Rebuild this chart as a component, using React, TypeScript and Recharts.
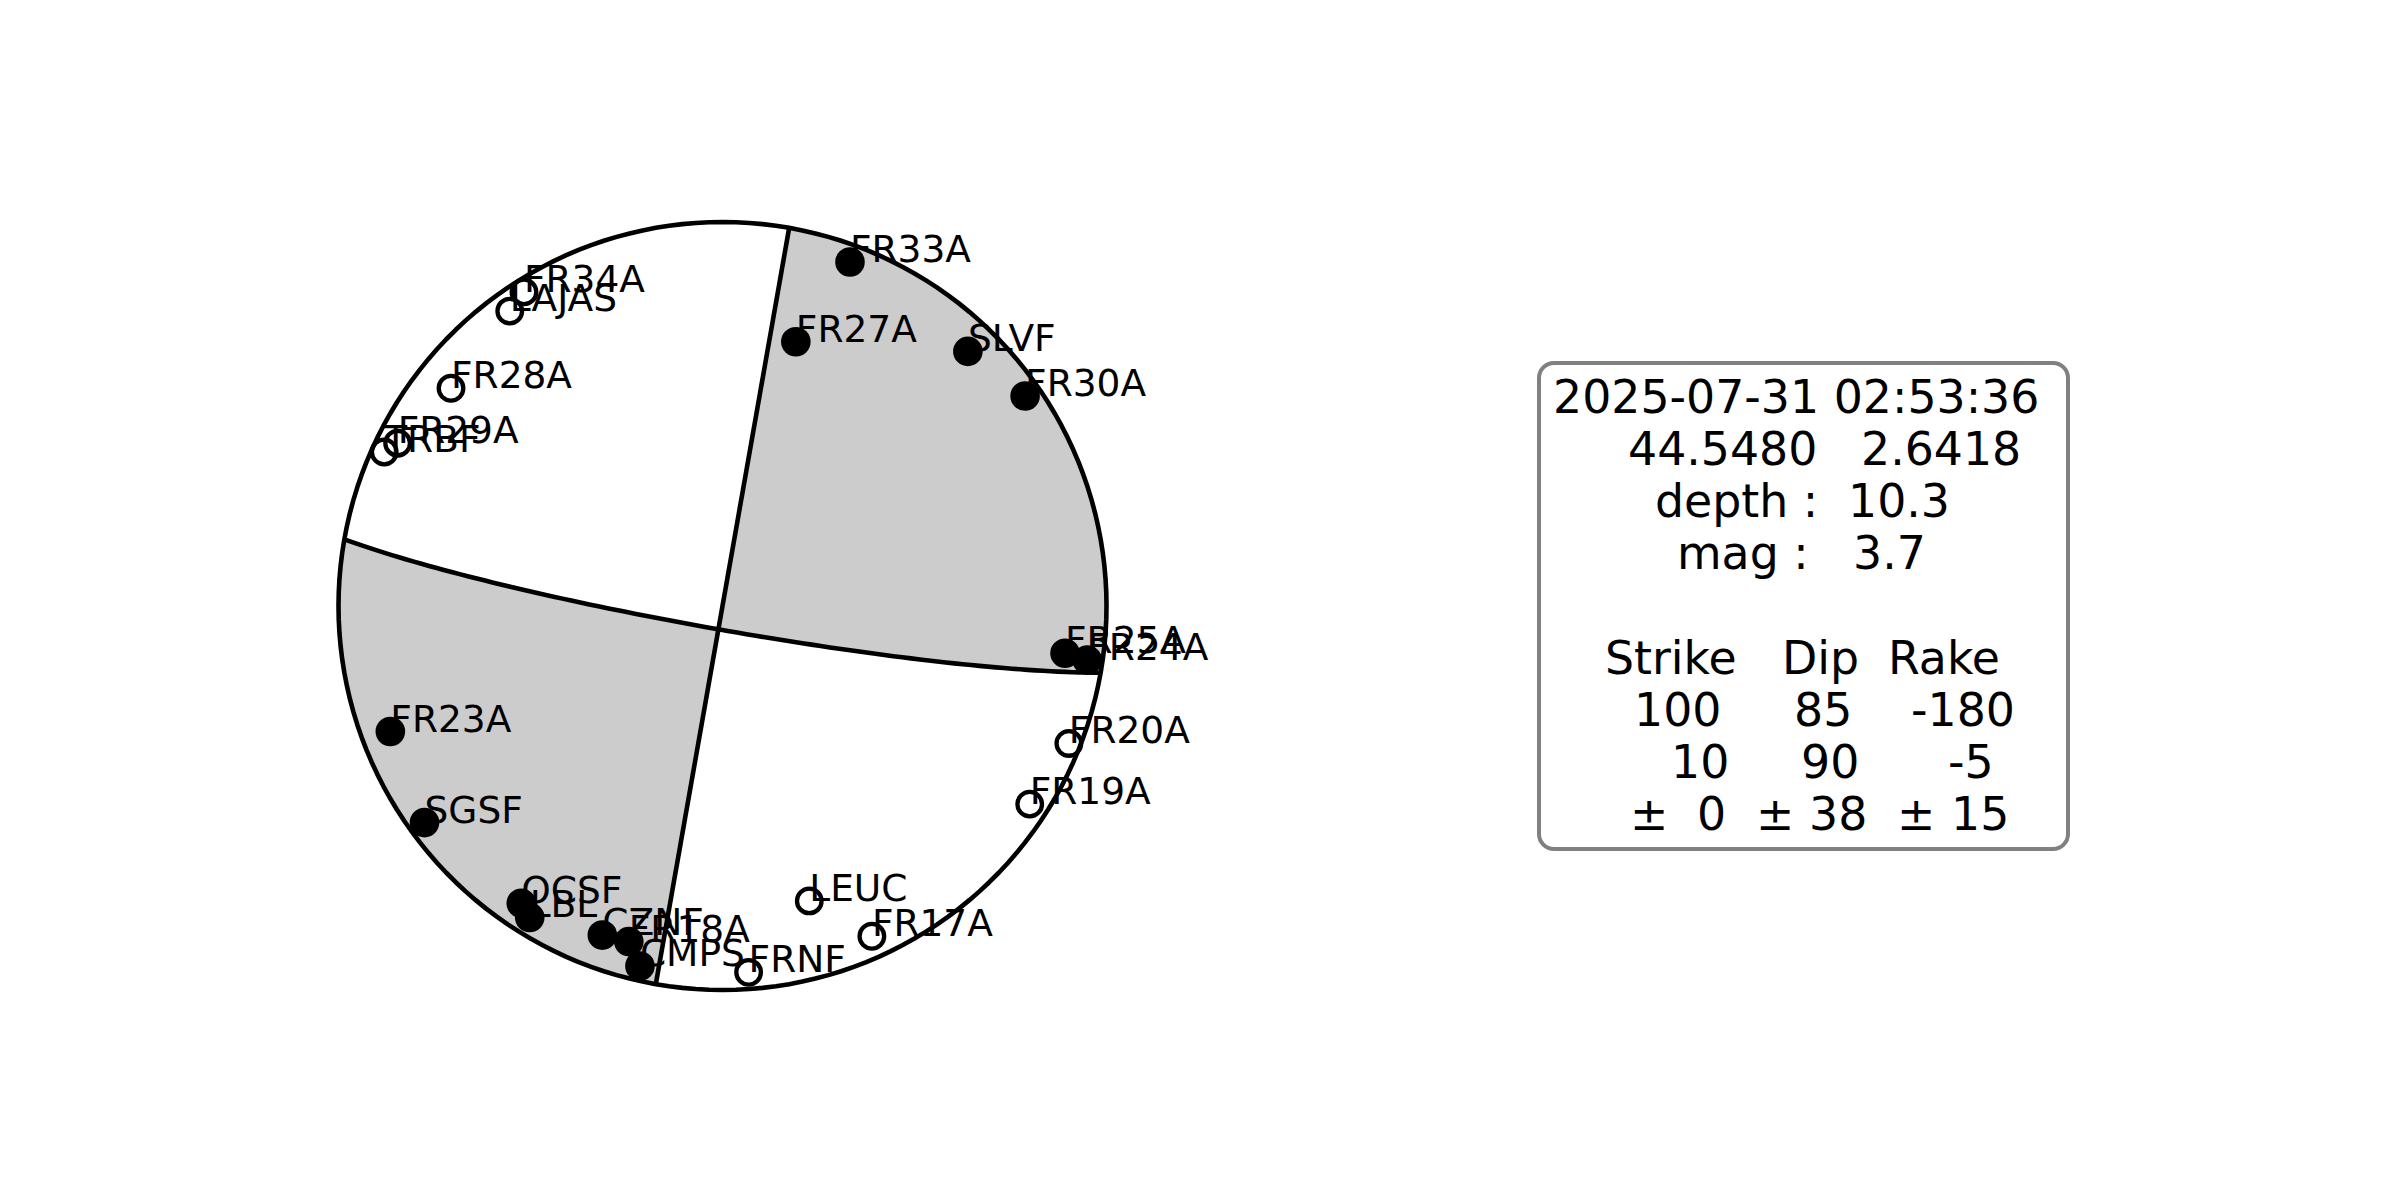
import React from "react";
import { ScatterChart, Scatter, XAxis, YAxis, Customized } from "recharts";

const CHART_W = 2400;
const CHART_H = 1200;

// nodal planes (strike, dip, rake) and their uncertainties
const strikes = [100, 10];
const dips = [85, 90];
const rakes = [-180, -5];
const errors = [0, 38, 15];

// event header
const eventTime = "2025-07-31 02:53:36";
const eventLat = "44.5480";
const eventLon = "2.6418";
const eventDepth = "10.3";
const eventMag = "3.7";

// stations, projected on the unit focal sphere (x east, y north), lower hemisphere
const stationNames = [
  "FR33A", "FR27A", "SLVF", "FR30A", "FR25A", "FR24A", "FR20A", "FR19A",
  "LEUC", "FR17A", "FRNF", "CMPS", "FR18A", "CZNF", "OCSF", "LBL",
  "SGSF", "FR23A", "TRBF", "FR29A", "FR28A", "FR34A", "LAJAS",
];
const stationX = [
  0.332, 0.191, 0.639, 0.788, 0.892, 0.95, 0.902, 0.8,
  0.226, 0.389, 0.068, -0.215, -0.244, -0.313, -0.524, -0.502,
  -0.776, -0.865, -0.881, -0.846, -0.707, -0.517, -0.554,
];
const stationY = [
  0.896, 0.688, 0.663, 0.547, -0.123, -0.141, -0.358, -0.516,
  -0.768, -0.86, -0.954, -0.9375, -0.874, -0.857, -0.774, -0.811,
  -0.564, -0.327, 0.401, 0.424, 0.567, 0.818, 0.768,
];
// 1 = compression (up), 0 = dilatation (down)
const stationPolarity = [
  1, 1, 1, 1, 1, 1, 0, 0,
  0, 0, 0, 1, 1, 1, 1, 1,
  1, 1, 0, 0, 0, 0, 0,
];

// view window so that the unit circle sits where the figure has it
const X_DOMAIN: [number, number] = [-722.5 / 384, (CHART_W - 722.5) / 384];
const Y_DOMAIN: [number, number] = [-(CHART_H - 606) / 384, 606 / 384];

type Pt = { x: number; y: number };
type Vec = [number, number, number];

const rad = (d: number) => (d * Math.PI) / 180;
const dot = (a: Vec, b: Vec) => a[0] * b[0] + a[1] * b[1] + a[2] * b[2];

function planeVecs(strike: number, dip: number) {
  const s = rad(strike);
  const d = rad(dip);
  const a: Vec = [Math.sin(s), Math.cos(s), 0];
  const b: Vec = [Math.cos(d) * Math.cos(s), -Math.cos(d) * Math.sin(s), -Math.sin(d)];
  const n: Vec = [Math.sin(d) * Math.cos(s), -Math.sin(d) * Math.sin(s), Math.cos(d)];
  return { a, b, n };
}

// Schmidt (equal area) lower hemisphere
function project(v: Vec): Pt {
  let [e, nn, u] = v;
  if (u > 0) {
    e = -e;
    nn = -nn;
    u = -u;
  }
  const len = Math.sqrt(e * e + nn * nn + u * u);
  const plunge = Math.asin(Math.min(1, -u / len));
  const trend = Math.atan2(e, nn);
  const r = Math.SQRT2 * Math.sin((Math.PI / 2 - plunge) / 2);
  return { x: r * Math.sin(trend), y: r * Math.cos(trend) };
}

const planes = strikes.map((s, i) => planeVecs(s, dips[i]));

function trace(i: number, t0: number, t1: number, steps = 90): Pt[] {
  const { a, b } = planes[i];
  const out: Pt[] = [];
  for (let k = 0; k <= steps; k++) {
    const t = rad(t0 + ((t1 - t0) * k) / steps);
    out.push(project([
      Math.cos(t) * a[0] + Math.sin(t) * b[0],
      Math.cos(t) * a[1] + Math.sin(t) * b[1],
      Math.cos(t) * a[2] + Math.sin(t) * b[2],
    ]));
  }
  return out;
}

// angle along plane i where it meets the other plane (null axis)
function nullAngle(i: number) {
  const { a, b } = planes[i];
  const other = planes[1 - i].n;
  let t = (Math.atan2(-dot(a, other), dot(b, other)) * 180) / Math.PI;
  while (t < 0) t += 180;
  while (t >= 180) t -= 180;
  return t;
}

function arc(az0: number, az1: number, steps = 60): Pt[] {
  const diff = ((az1 - az0 + 540) % 360) - 180;
  const out: Pt[] = [];
  for (let k = 0; k <= steps; k++) {
    const az = rad(az0 + (diff * k) / steps);
    out.push({ x: Math.sin(az), y: Math.cos(az) });
  }
  return out;
}

const azOf = (p: Pt) => (Math.atan2(p.x, p.y) * 180) / Math.PI;

function quadrant(e1: number, e2: number): Pt[] {
  const tb1 = nullAngle(0);
  const tb2 = nullAngle(1);
  const p2 = trace(1, e2, tb2);
  const p1 = trace(0, tb1, e1);
  const end1 = p1[p1.length - 1];
  const start2 = p2[0];
  return [...p2, ...p1, ...arc(azOf(end1), azOf(start2))];
}

// which pair of quadrants is compressional
function slipVec(i: number): Vec {
  const { a, b } = planes[i];
  const l = rad(rakes[i]);
  return [
    Math.cos(l) * a[0] - Math.sin(l) * b[0],
    Math.cos(l) * a[1] - Math.sin(l) * b[1],
    Math.cos(l) * a[2] - Math.sin(l) * b[2],
  ];
}
const testDir: Vec = [
  planes[0].a[0] + planes[1].a[0],
  planes[0].a[1] + planes[1].a[1],
  0,
];
const firstQuadUp = dot(testDir, planes[0].n) * dot(testDir, slipVec(0)) > 0;
const grayQuads = firstQuadUp
  ? [quadrant(0, 0), quadrant(180, 180)]
  : [quadrant(0, 180), quadrant(180, 0)];

const planeTraces = [trace(0, 0, 180), trace(1, 0, 180)];
const outline = arc(0, 180, 90).concat(arc(180, 360, 90));

const stations = stationNames.map((name, i) => ({
  name,
  x: stationX[i],
  y: stationY[i],
  up: stationPolarity[i] === 1,
}));

const toPath = (pts: { x: number; y: number }[], close = false) =>
  pts.map((p, i) => `${i ? "L" : "M"}${p.x},${p.y}`).join(" ") + (close ? " Z" : "");

const NoDot = () => <g />;

const fillLine = (props: any) => (
  <path d={toPath(props.points, true)} fill="#cccccc" stroke="none" />
);
const strokeLine = (width: number) => (props: any) => (
  <path d={toPath(props.points)} fill="none" stroke="#000000" strokeWidth={width} strokeLinejoin="round" />
);

const StationMarker = (props: any) => {
  const { cx, cy, payload } = props;
  return payload.up ? (
    <circle cx={cx} cy={cy} r={14.8} fill="#000000" />
  ) : (
    <circle cx={cx} cy={cy} r={12.3} fill="none" stroke="#000000" strokeWidth={4.3} />
  );
};

const StationLabel = (props: any) => {
  const { cx, cy, payload } = props;
  return (
    <text x={cx} y={cy} fontFamily="DejaVu Sans" fontSize={37.5} fill="#000000">
      {payload.name}
    </text>
  );
};

const BOX = { x: 1539, y: 363, w: 529, h: 486 };
const ROW_Y = [413, 465, 517, 569, 673.5, 725.5, 777.5, 829.5];

const InfoBox = () => {
  const rows: [string, number][][] = [
    [[eventTime, 1553]],
    [[eventLat, 1628], [eventLon, 1861]],
    [["depth :", 1655], [eventDepth, 1848]],
    [["mag :", 1677], [eventMag, 1853]],
    [["Strike", 1605], ["Dip", 1782], ["Rake", 1888]],
    [[String(strikes[0]), 1634], [String(dips[0]), 1794], [String(rakes[0]), 1911]],
    [[String(strikes[1]), 1671], [String(dips[1]), 1801], [String(rakes[1]), 1948]],
    [["±", 1630], [String(errors[0]), 1697], ["±", 1756], [String(errors[1]), 1809], ["±", 1897], [String(errors[2]), 1951]],
  ];
  return (
    <g>
      <rect x={BOX.x} y={BOX.y} width={BOX.w} height={BOX.h} rx={15} ry={15} fill="#ffffff" stroke="#808080" strokeWidth={4} />
      {rows.map((row, r) =>
        row.map(([txt, x], k) => (
          <text key={`${r}-${k}`} x={x} y={ROW_Y[r]} fontFamily="DejaVu Sans" fontSize={45.8} fill="#000000">
            {txt}
          </text>
        ))
      )}
    </g>
  );
};

export default function App() {
  return (
    <div style={{ position: "absolute", left: 0, top: 0, width: CHART_W, height: CHART_H, background: "#ffffff" }}>
      <ScatterChart width={CHART_W} height={CHART_H} margin={{ top: 0, right: 0, bottom: 0, left: 0 }}>
        <XAxis type="number" dataKey="x" domain={X_DOMAIN} hide allowDataOverflow />
        <YAxis type="number" dataKey="y" domain={Y_DOMAIN} hide allowDataOverflow />
        {grayQuads.map((q, i) => (
          <Scatter key={`q${i}`} data={q} line={fillLine} shape={NoDot} isAnimationActive={false} />
        ))}
        {planeTraces.map((p, i) => (
          <Scatter key={`p${i}`} data={p} line={strokeLine(4.6)} shape={NoDot} isAnimationActive={false} />
        ))}
        <Scatter data={outline} line={strokeLine(4.6)} shape={NoDot} isAnimationActive={false} />
        <Scatter data={stations} shape={StationMarker} isAnimationActive={false} />
        <Scatter data={stations} shape={StationLabel} isAnimationActive={false} />
        <Customized component={<InfoBox />} />
      </ScatterChart>
    </div>
  );
}
